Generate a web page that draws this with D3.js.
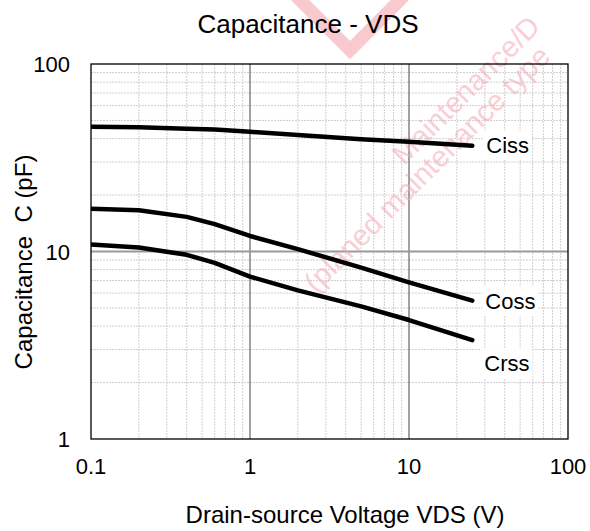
<!DOCTYPE html>
<html><head><meta charset="utf-8">
<script src="https://cdn.jsdelivr.net/npm/d3@7"></script>
<style>body{margin:0;background:#fff}svg{display:block}text{font-family:Arial,"Liberation Sans",sans-serif;white-space:pre}</style>
</head><body><svg id="c" width="590" height="531"></svg>
<script>
// ---- data ----
const vds  = [0.1, 0.2, 0.4, 0.6, 1, 2, 5, 10, 25];
const ciss = [46.3, 46.0, 45.2, 44.7, 43.5, 41.8, 39.7, 38.5, 36.6];
const coss = [16.9, 16.6, 15.3, 14.0, 12.1, 10.3, 8.2, 6.85, 5.47];
const crss = [10.9, 10.5, 9.6, 8.7, 7.35, 6.2, 5.1, 4.31, 3.37];
const seriesNames = ["Ciss", "Coss", "Crss"];
const xTicks = [0.1, 1, 10, 100];
const yTicks = [1, 10, 100];
const title = "Capacitance - VDS";
const xTitle = "Drain-source Voltage VDS (V)";
const yTitle = "Capacitance  C (pF)";
const stamp = ["Maintenance/D", "(planed maintenance type"];

const svg = d3.select("#c");
const m = {l:91, r:568, t:64, b:439};
const x = d3.scaleLog().domain([0.1, 100]).range([m.l, m.r]);
const y = d3.scaleLog().domain([1, 100]).range([m.b, m.t]);

// watermark mark
svg.append("path").attr("d", "M296,-4 L350,50 L404,-4").attr("fill","none")
  .attr("stroke","#f9c9d0").attr("stroke-width", 13);

// minor grid
const minorX = [], minorY = [];
for (let d = 0.1; d < 100; d *= 10) for (let k = 2; k <= 9; k++) minorX.push(d*k);
for (let d = 1; d < 100; d *= 10) for (let k = 2; k <= 9; k++) minorY.push(d*k);
const g = svg.append("g");
g.selectAll(".mx").data(minorX).join("line")
  .attr("x1", d=>x(d)).attr("x2", d=>x(d)).attr("y1", m.t).attr("y2", m.b)
  .attr("stroke", "#cfcfcf").attr("stroke-width", 1).attr("stroke-dasharray", "2,1");
g.selectAll(".my").data(minorY).join("line")
  .attr("y1", d=>y(d)).attr("y2", d=>y(d)).attr("x1", m.l).attr("x2", m.r)
  .attr("stroke", "#cfcfcf").attr("stroke-width", 1).attr("stroke-dasharray", "2,1");
// major grid
g.selectAll(".Mx").data([1, 10]).join("line")
  .attr("x1", d=>x(d)).attr("x2", d=>x(d)).attr("y1", m.t).attr("y2", m.b)
  .attr("stroke", "#444").attr("stroke-width", 1);
g.selectAll(".My").data([10]).join("line")
  .attr("y1", d=>y(d)).attr("y2", d=>y(d)).attr("x1", m.l).attr("x2", m.r)
  .attr("stroke", "#999").attr("stroke-width", 2);

// watermark text
const wt = svg.append("g").attr("fill", "#f5a9b6").attr("opacity", 0.55)
  .style("font-size", "29px");
wt.append("text").attr("transform", "translate(404,166) rotate(-45)").text(stamp[0]);
wt.append("text").attr("transform", "translate(316,294) rotate(-45)").text(stamp[1]);

// frame
svg.append("rect").attr("x", m.l).attr("y", m.t).attr("width", m.r-m.l).attr("height", m.b-m.t)
  .attr("fill", "none").attr("stroke", "#000").attr("stroke-width", 1.3);

// curves
svg.append("clipPath").attr("id","clip").append("rect")
  .attr("x", m.l).attr("y", m.t).attr("width", m.r-m.l).attr("height", m.b-m.t);
const line = d3.line().x(d=>x(d[0])).y(d=>y(d[1]));
const allSeries = [ciss, coss, crss];
const cg = svg.append("g").attr("clip-path","url(#clip)");
allSeries.forEach(s => {
  cg.append("path").datum(vds.map((v,i)=>[v, s[i]])).attr("d", line)
    .attr("fill","none").attr("stroke","#000").attr("stroke-width", 4.5)
    .attr("stroke-linecap","round").attr("stroke-linejoin","round");
});

// series labels with white boxes
const labelPos = [
  {dx: 14, dy: 7},
  {dx: 13, dy: 8},
  {dx: 12, dy: 31}
];
allSeries.forEach((s, i) => {
  const lx = x(vds[vds.length-1]) + labelPos[i].dx;
  const ly = y(s[s.length-1]) + labelPos[i].dy;
  const t = svg.append("text").attr("x", lx).attr("y", ly).style("font-size", "22px").text(seriesNames[i]);
  const bb = t.node().getBBox();
  svg.insert("rect", () => t.node()).attr("x", bb.x-3).attr("y", bb.y-2).attr("width", bb.width+6).attr("height", bb.height+4).attr("fill","#fff");
});

// axes tick labels
svg.selectAll(".xt").data(xTicks).join("text")
  .attr("x", d=>x(d)).attr("y", 474).attr("text-anchor","middle").style("font-size","22px").text(d=>d);
svg.selectAll(".yt").data(yTicks).join("text")
  .attr("x", 70).attr("y", d=>y(d)+8).attr("text-anchor","end").style("font-size","22px").text(d=>d);

// titles
svg.append("text").attr("x", 308).attr("y", 33).attr("text-anchor","middle").style("font-size","26px").text(title);
svg.append("text").attr("x", 345).attr("y", 523).attr("text-anchor","middle").style("font-size","24px").text(xTitle);
svg.append("text").attr("transform","translate(32,262) rotate(-90)").attr("text-anchor","middle").style("font-size","24px").text(yTitle);
</script></body></html>
